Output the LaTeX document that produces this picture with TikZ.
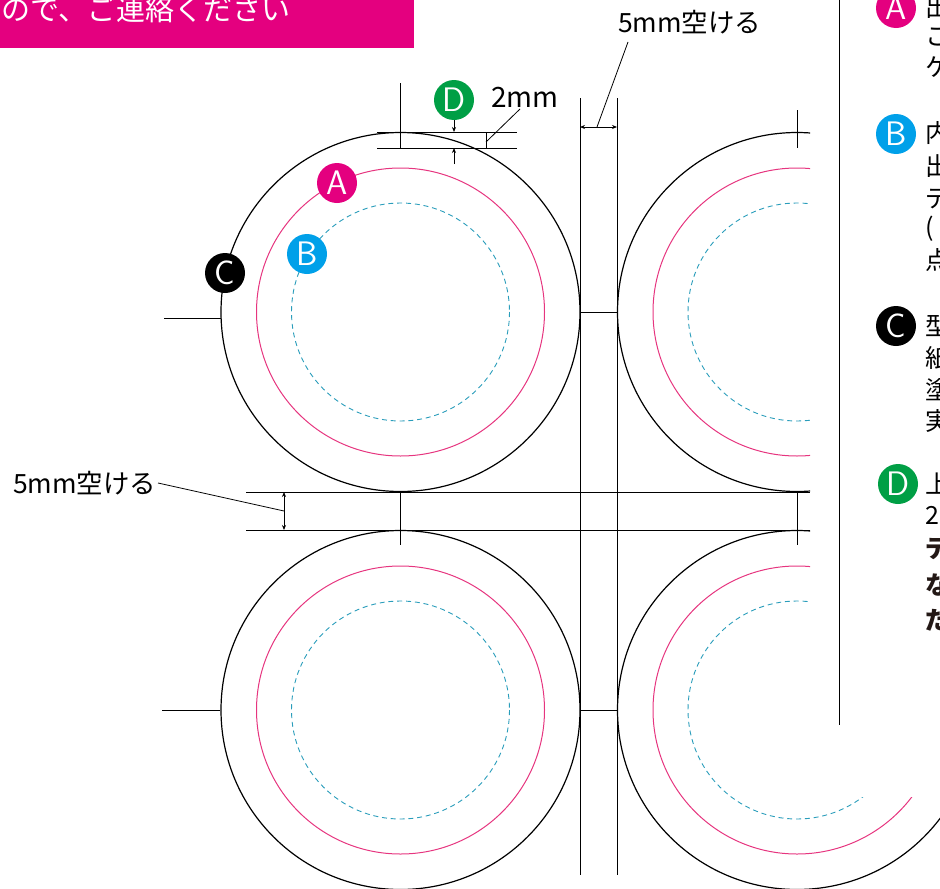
\documentclass[tikz,border=0pt]{standalone}
\usepackage{fontspec}
\setmainfont{Noto Sans CJK JP}
\usetikzlibrary{arrows.meta}
\definecolor{bandpink}{HTML}{E4007F}
\definecolor{cutpink}{HTML}{E6357F}
\definecolor{dashblue}{HTML}{2A9DBB}
\definecolor{badgeblue}{HTML}{00A0E9}
\definecolor{badgegreen}{HTML}{009F45}
\definecolor{boldgrey}{HTML}{231815}
\tikzstyle{badge}=[circle, minimum size=40pt, inner sep=0pt, text=white, font=\fontsize{34}{34}\selectfont\sffamily]
\tikzstyle{side}=[anchor=west, inner sep=0pt, font=\fontsize{25}{25}\selectfont]
\tikzstyle{sidebold}=[side, text=boldgrey, font=\fontsize{25}{25}\selectfont\bfseries]
\tikzstyle{lab}=[inner sep=0pt, font=\fontsize{26.5}{26.5}\selectfont]
\tikzstyle{rule}=[line width=1pt, black]
\tikzstyle{thin}=[line width=.8pt, black]
\tikzstyle{dim}=[thin, {Stealth[length=5pt,width=4pt]}-{Stealth[length=5pt,width=4pt]}]
\tikzstyle{tip}=[thin, -{Stealth[length=5pt,width=4pt]}]
\begin{document}
\begin{tikzpicture}[x=1pt, y=-1pt]
    \useasboundingbox (0,0) rectangle (940,889);
    \fill[bandpink] (0,-2) rectangle (414,48);
    \node[anchor=west, inner sep=0pt, text=white, font=\fontsize{29}{29}\selectfont] (band) at (1,9) {ので、ご連絡ください};
    % circles, the right hand ones are cut by the panel
    \begin{scope}
      \clip (0,0) -- (810,0) -- (810,797) -- (940,797) -- (940,889) -- (0,889) -- cycle;
      \foreach \cx/\cy in {400.5/312, 797/312, 400.5/710, 797/710} {
        \draw[line width=1.2pt] (\cx,\cy) circle (179.5);
        \draw[cutpink, line width=1pt] (\cx,\cy) circle (144);
        \draw[dashblue, line width=.9pt, dash pattern=on 5pt off 3.8pt] (\cx,\cy) circle (109);
      }
    \end{scope}
    % ends of the rules
    \foreach \name/\x/\y in {p1/400/83, p2/400/148, p3/164/318, p4/221/318, p5/797/110, p6/797/148,
      p7/400/492, p8/400/545, p9/797/492, p10/797/545, p11/162/710, p12/220/710,
      p13/580/312, p14/617/312, p15/580/710, p16/617/710, p17/580/98, p18/580/875,
      p19/617/98, p20/617/875, p21/246/492, p22/810/492, p23/246/530, p24/810/530,
      p25/377/132, p26/517/132, p27/377/148, p28/517/148, p29/839/-2, p30/839/725}
      \coordinate (\name) at (\x,\y);
    \foreach \from/\to in {p1/p2, p3/p4, p5/p6, p7/p8, p9/p10, p11/p12, p13/p14, p15/p16,
      p17/p18, p19/p20, p21/p22, p23/p24, p25/p26, p27/p28, p29/p30}
    \draw[rule] (\from) -- (\to);
    % dimensions
    \coordinate (g1) at (284,492);
    \coordinate (g2) at (284,530);
    \coordinate (g3) at (284,511);
    \coordinate (g4) at (158,483);
    \coordinate (h1) at (580,127);
    \coordinate (h2) at (617,127);
    \coordinate (h3) at (597,127);
    \coordinate (h4) at (628,42);
    \coordinate (k1) at (486,132);
    \coordinate (k2) at (486,148);
    \coordinate (k3) at (486,142);
    \coordinate (k4) at (520,109);
    \coordinate (m1) at (454,120);
    \coordinate (m2) at (454,132);
    \coordinate (m3) at (454,164);
    \coordinate (m4) at (454,148);
    \draw[dim] (g1) -- (g2);
    \draw[dim] (h1) -- (h2);
    \draw[thin] (k1) -- (k2);
    \foreach \from/\to in {g3/g4, h3/h4, k3/k4}
    \draw[thin] (\from) -- (\to);
    \draw[tip] (m1) -- (m2);
    \draw[tip] (m3) -- (m4);
    \node[lab, anchor=west] (gap1) at (618,22) {5mm空ける};
    \node[lab, anchor=west] (gap2) at (13,483) {5mm空ける};
    \node[lab, anchor=west, font=\fontsize{28}{28}\selectfont] (two) at (491,97) {2mm};
    % badges
    \node[badge, fill=bandpink] (a1) at (337,183) {A};
    \node[badge, fill=badgeblue] (b1) at (307,254) {B};
    \node[badge, fill=black] (c1) at (225,273) {C};
    \node[badge, fill=badgegreen] (d1) at (454,100) {D};
    \node[badge, fill=bandpink] (a2) at (896,8) {A};
    \node[badge, fill=badgeblue] (b2) at (896,134) {B};
    \node[badge, fill=black] (c2) at (896,326) {C};
    \node[badge, fill=badgegreen] (d2) at (898,484) {D};
    % text of the panel, cut by the page
    \foreach \name/\y/\t in {t1/7/出, t2/37/こ, t3/67/ケ, t4/133/内, t5/166/出, t6/198/デ, t7/229/(,
      t8/260/点, t9/326/型, t10/358/紙, t11/390/塗, t12/421/実, t13/484/上, t14/515/2}
      \node[side] (\name) at (925,\y) {\t};
    \foreach \name/\y/\t in {t15/548/デ, t16/585/な, t17/620/だ}
      \node[sidebold] (\name) at (925,\y) {\t};
\end{tikzpicture}
\end{document}
